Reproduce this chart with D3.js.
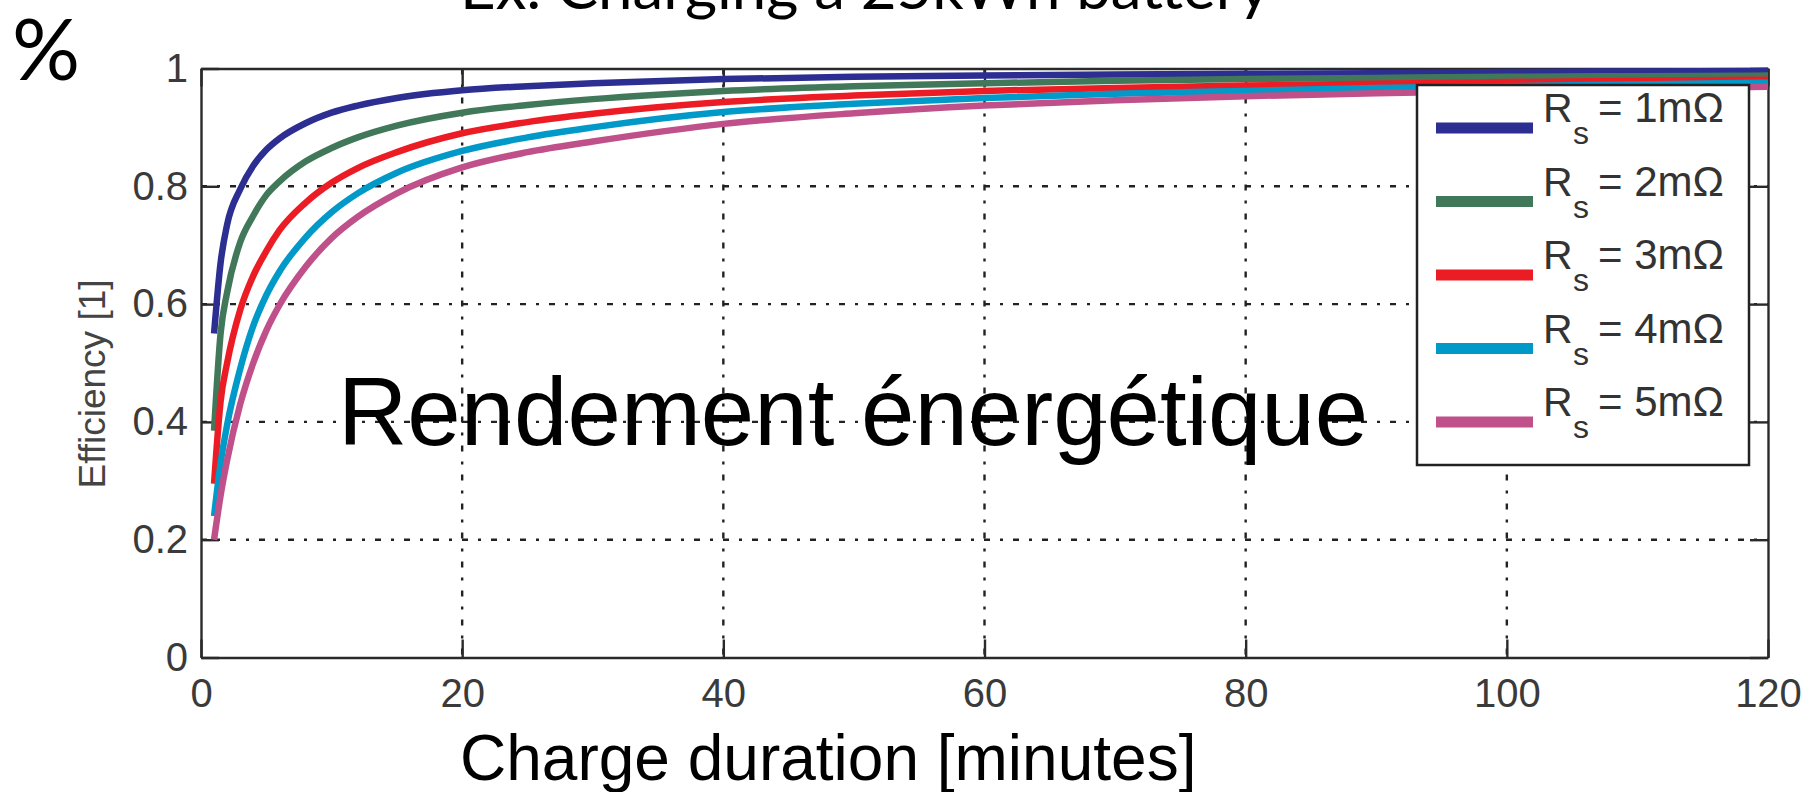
<!DOCTYPE html>
<html>
<head>
<meta charset="utf-8">
<script src="https://cdn.jsdelivr.net/npm/d3@7"></script>
<style>
  body { margin: 0; background: #fff; }
  svg { display: block; }
</style>
</head>
<body>
<div id="chart"></div>
<script>
// charge duration (minutes) sampled along the curves
const durations = [1, 1.5, 2, 3, 4, 5, 6, 8, 10, 12, 15, 20, 25, 30, 40, 50, 60, 70, 80, 90, 100, 110, 120];

// efficiency, one array per series resistance
const eff1 = [0.55, 0.67, 0.735, 0.795, 0.835, 0.862, 0.881, 0.907, 0.925, 0.937, 0.95, 0.963, 0.97, 0.975, 0.982, 0.986, 0.988, 0.99, 0.991, 0.992, 0.994, 0.995, 0.996];
const eff2 = [0.385, 0.55, 0.62, 0.705, 0.75, 0.785, 0.808, 0.842, 0.865, 0.883, 0.903, 0.925, 0.938, 0.948, 0.962, 0.97, 0.975, 0.979, 0.982, 0.984, 0.986, 0.987, 0.988];
const eff3 = [0.295, 0.435, 0.50, 0.59, 0.648, 0.69, 0.725, 0.772, 0.806, 0.831, 0.858, 0.89, 0.909, 0.923, 0.943, 0.954, 0.962, 0.967, 0.971, 0.974, 0.977, 0.979, 0.981];
const eff4 = [0.24, 0.33, 0.395, 0.49, 0.563, 0.615, 0.655, 0.713, 0.756, 0.788, 0.823, 0.86, 0.883, 0.90, 0.926, 0.94, 0.95, 0.957, 0.962, 0.967, 0.97, 0.973, 0.976];
const eff5 = [0.20, 0.275, 0.335, 0.43, 0.50, 0.555, 0.598, 0.663, 0.712, 0.748, 0.788, 0.832, 0.858, 0.876, 0.906, 0.924, 0.937, 0.946, 0.953, 0.958, 0.962, 0.966, 0.969];

const seriesNames = ['1m\u03A9', '2m\u03A9', '3m\u03A9', '4m\u03A9', '5m\u03A9'];
const seriesColors = ['#2c2e91', '#42785a', '#ec1c24', '#0099c8', '#bf508a'];

const xTicks = [0, 20, 40, 60, 80, 100, 120];
const yTicks = [0, 0.2, 0.4, 0.6, 0.8, 1];

const width = 1811;
const height = 792;
const plot = { left: 201, right: 1768, top: 68.5, bottom: 657.5 };

const svg = d3.select('#chart')
    .append('svg')
    .attr('width', width)
    .attr('height', height);

svg.append('rect')
    .attr('width', width)
    .attr('height', height)
    .attr('fill', '#fff');

const x = d3.scaleLinear().domain([0, 120]).range([plot.left, plot.right]);
const y = d3.scaleLinear().domain([0, 1]).range([plot.bottom, plot.top]);

const tickFont = '"Liberation Sans", Arial, Helvetica, sans-serif';

// grid (dash-dot like matlab ':' at this size)
const grid = svg.append('g').attr('class', 'grid');
grid.selectAll('.gx')
    .data(xTicks.slice(1, -1))
    .enter().append('line')
    .attr('x1', d => x(d)).attr('x2', d => x(d))
    .attr('y1', plot.top).attr('y2', plot.bottom)
    .attr('stroke', '#222').attr('stroke-width', 2.4)
    .attr('stroke-dasharray', '6,10,3,10');
grid.selectAll('.gy')
    .data(yTicks.slice(1, -1))
    .enter().append('line')
    .attr('y1', d => y(d)).attr('y2', d => y(d))
    .attr('x1', plot.left).attr('x2', plot.right)
    .attr('stroke', '#222').attr('stroke-width', 2.4)
    .attr('stroke-dasharray', '6,10,3,10');

// axes, ticks pointing inward
const axisBottom = d3.axisBottom(x).tickValues(xTicks).tickSizeInner(-18).tickSizeOuter(0).tickPadding(21).tickFormat(d3.format('d'));
const axisTop = d3.axisTop(x).tickValues(xTicks).tickSizeInner(-18).tickSizeOuter(0).tickFormat('');
const axisLeft = d3.axisLeft(y).tickValues(yTicks).tickSizeInner(-18).tickSizeOuter(0).tickPadding(13).tickFormat(d => d === 0 || d === 1 ? d3.format('d')(d) : d3.format('.1f')(d));
const axisRight = d3.axisRight(y).tickValues(yTicks).tickSizeInner(-18).tickSizeOuter(0).tickFormat('');

function styleAxis(g) {
    g.select('.domain').attr('stroke', '#2a2a2a').attr('stroke-width', 2.4);
    g.selectAll('.tick line').attr('stroke', '#2a2a2a').attr('stroke-width', 2.4);
    g.selectAll('.tick text')
        .attr('font-family', tickFont)
        .attr('font-size', 40)
        .attr('fill', '#3a3a3a');
}

svg.append('g').attr('transform', `translate(0,${plot.bottom})`).call(axisBottom).call(styleAxis);
svg.append('g').attr('transform', `translate(0,${plot.top})`).call(axisTop).call(styleAxis);
svg.append('g').attr('transform', `translate(${plot.left},0)`).call(axisLeft).call(styleAxis);
svg.append('g').attr('transform', `translate(${plot.right},0)`).call(axisRight).call(styleAxis);

// curves
const allSeries = [eff1, eff2, eff3, eff4, eff5];
const line = d3.line()
    .x(d => x(d[0]))
    .y(d => y(d[1]))
    .curve(d3.curveMonotoneX);

svg.append('g')
    .selectAll('path')
    .data(allSeries)
    .enter().append('path')
    .attr('d', vals => line(durations.map((t, i) => [t, vals[i]])))
    .attr('fill', 'none')
    .attr('stroke', (d, i) => seriesColors[i])
    .attr('stroke-width', 6.5)
    .attr('stroke-linejoin', 'round');

// y axis label
svg.append('text')
    .attr('transform', 'translate(105,384) rotate(-90)')
    .attr('text-anchor', 'middle')
    .attr('font-family', tickFont)
    .attr('font-size', 37)
    .attr('fill', '#444')
    .text('Efficiency [1]');

// legend
const legend = svg.append('g');
legend.append('rect')
    .attr('x', 1417).attr('y', 85)
    .attr('width', 332).attr('height', 380)
    .attr('fill', '#fff')
    .attr('stroke', '#222').attr('stroke-width', 2.5);

const legendY = d3.scalePoint().domain(d3.range(5)).range([128, 422]);

const items = legend.selectAll('.item')
    .data(seriesNames)
    .enter().append('g')
    .attr('transform', (d, i) => `translate(0,${legendY(i)})`);

items.append('line')
    .attr('x1', 1436).attr('x2', 1533)
    .attr('stroke', (d, i) => seriesColors[i])
    .attr('stroke-width', 11);

items.append('text')
    .attr('x', 1543).attr('y', -6)
    .attr('font-family', tickFont).attr('font-size', 41).attr('fill', '#333')
    .text('R');
items.append('text')
    .attr('x', 1573).attr('y', 16)
    .attr('font-family', tickFont).attr('font-size', 32).attr('fill', '#333')
    .text('s');
items.append('text')
    .attr('x', 1598).attr('y', -6)
    .attr('font-family', tickFont).attr('font-size', 42).attr('fill', '#333')
    .text(d => '= ' + d);

// slide overlay texts
svg.append('text')
    .attr('x', 338).attr('y', 445)
    .attr('font-family', tickFont)
    .attr('font-size', 96)
    .attr('fill', '#000')
    .text('Rendement énergétique');

svg.append('text')
    .attr('x', 460).attr('y', 780)
    .attr('font-family', tickFont)
    .attr('font-size', 64)
    .attr('fill', '#000')
    .text('Charge duration [minutes]');

svg.append('text')
    .attr('x', 460).attr('y', 9)
    .attr('font-family', 'Lato, "Open Sans", sans-serif')
    .attr('font-size', 60)
    .attr('textLength', 810)
    .attr('lengthAdjust', 'spacingAndGlyphs')
    .attr('fill', '#000')
    .text('Ex. Charging a 25kWh battery');

svg.append('text')
    .attr('x', 12).attr('y', 80)
    .attr('font-family', 'Lato, "Open Sans", sans-serif')
    .attr('font-size', 85)
    .attr('fill', '#000')
    .text('%');
</script>
</body>
</html>
